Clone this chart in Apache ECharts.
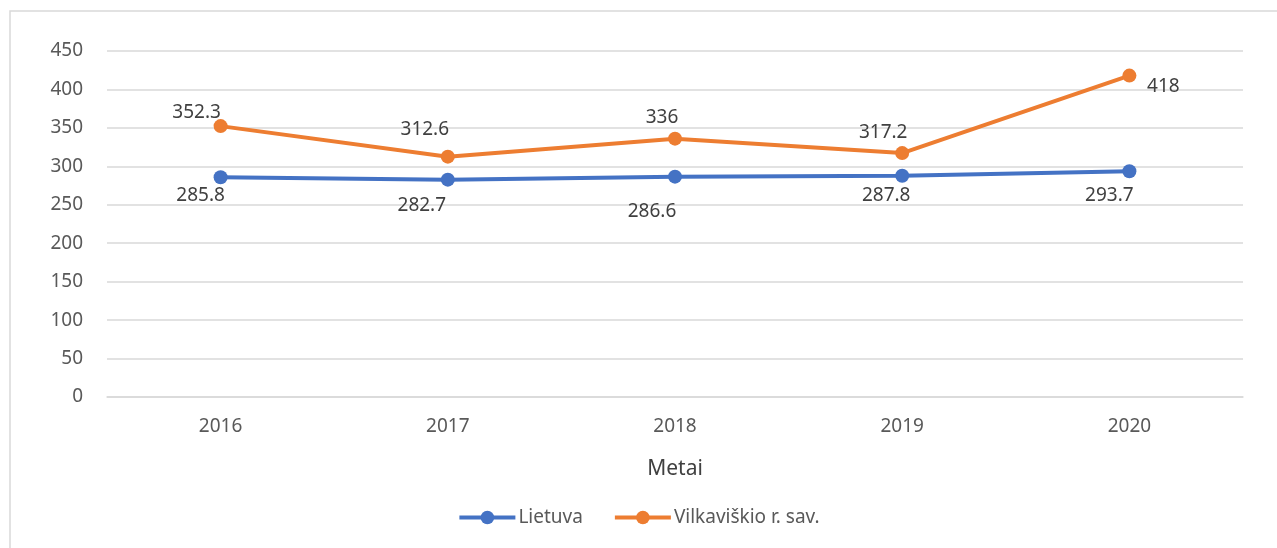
<!DOCTYPE html>
<html>
<head>
<meta charset="utf-8">
<script src="https://cdn.jsdelivr.net/npm/echarts@6/dist/echarts.min.js"></script>
<style>
  html, body { margin: 0; padding: 0; background: #fff; }
  #myChart { width: 1277px; height: 548px; }
</style>
</head>
<body>
<div id="myChart"></div>
<script type="text/javascript">
// chart data
var years = ['2016', '2017', '2018', '2019', '2020']
var lietuva = [285.8, 282.7, 286.6, 287.8, 293.7]
var vilkaviskio = [352.3, 312.6, 336, 317.2, 418]
var yTicks = [0, 50, 100, 150, 200, 250, 300, 350, 400, 450]

// label placement (dx, dy from the point), as in the original picture
var lietuvaLabelShift = [[-20, 18], [-26, 26], [-23, 35], [-16, 20], [-20, 24]]
var vilkLabelShift = [[-24, -14], [-23, -27], [-13, -21], [-19, -21], [34, 11]]

var labelFont = '"Noto Sans", "Open Sans", sans-serif'

function withLabels(values, shifts) {
  var out = []
  for (var i = 0; i < values.length; i++) {
    out.push({
      value: values[i],
      label: { position: 'inside', offset: shifts[i] }
    })
  }
  return out
}

var myChart = echarts.init(document.getElementById('myChart'))
myChart.setOption({
  animation: false,
  textStyle: { fontFamily: labelFont },
  graphic: [{
    type: 'rect',
    shape: { x: 10, y: 11, width: 1300, height: 600 },
    style: { fill: 'none', stroke: '#d9d9d9', lineWidth: 1.5 },
    silent: true
  }],
  grid: { left: 107, right: 34, top: 51, bottom: 151 },
  legend: {
    bottom: 16,
    left: 'center',
    itemWidth: 56,
    itemHeight: 17,
    itemGap: 30,
    lineStyle: { width: 4 },
    textStyle: { fontSize: 19, color: '#595959', fontFamily: labelFont, padding: [0, 0, 0, -2] },
    data: ['Lietuva', 'Vilkaviškio r. sav.']
  },
  xAxis: {
    type: 'category',
    data: years,
    boundaryGap: true,
    name: 'Metai',
    nameLocation: 'middle',
    nameGap: 62,
    nameTextStyle: { fontSize: 21, color: '#404040', fontFamily: labelFont },
    axisLine: { lineStyle: { color: '#d9d9d9', width: 1.5 } },
    axisTick: { show: false },
    axisLabel: { fontSize: 19, color: '#595959', margin: 20, fontFamily: labelFont }
  },
  yAxis: {
    type: 'value',
    min: yTicks[0],
    max: yTicks[yTicks.length - 1],
    interval: yTicks[1] - yTicks[0],
    axisLine: { show: false },
    axisTick: { show: false },
    axisLabel: { fontSize: 19, color: '#595959', margin: 24, fontFamily: labelFont },
    splitLine: { lineStyle: { color: '#d9d9d9', width: 1.5 } }
  },
  series: [
    {
      name: 'Lietuva',
      type: 'line',
      data: withLabels(lietuva, lietuvaLabelShift),
      color: '#4472C4',
      symbol: 'circle',
      symbolSize: 14,
      lineStyle: { width: 4, color: '#4472C4' },
      itemStyle: { color: '#4472C4' },
      label: { show: true, fontSize: 19, color: '#404040', fontFamily: labelFont }
    },
    {
      name: 'Vilkaviškio r. sav.',
      type: 'line',
      data: withLabels(vilkaviskio, vilkLabelShift),
      color: '#ED7D31',
      symbol: 'circle',
      symbolSize: 14,
      lineStyle: { width: 4, color: '#ED7D31' },
      itemStyle: { color: '#ED7D31' },
      label: { show: true, fontSize: 19, color: '#404040', fontFamily: labelFont }
    }
  ]
})
</script>
</body>
</html>
